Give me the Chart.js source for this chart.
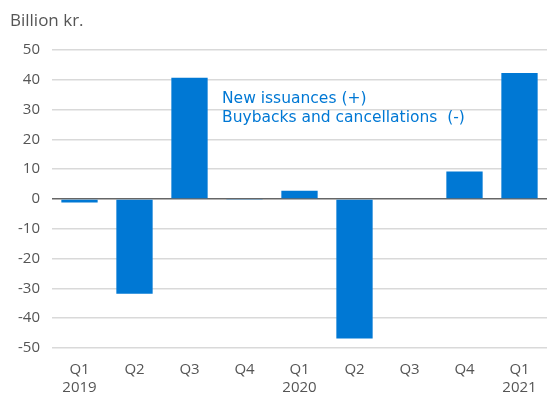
<!DOCTYPE html>
<html><head><meta charset="utf-8">
<script src="https://cdn.jsdelivr.net/npm/chart.js@4/dist/chart.umd.min.js"></script>
<style>
html,body{margin:0;padding:0;background:#fff;}
#wrap{position:relative;width:549px;height:396px;font-family:"Open Sans",sans-serif;}
#unit{position:absolute;left:10px;top:10px;font-size:17px;line-height:20px;color:#555;}
.leg{position:absolute;left:222px;font-family:"DejaVu Sans",sans-serif;font-size:15.5px;line-height:18px;color:#0078D4;white-space:pre;}
</style></head><body>
<div id="wrap">
<canvas id="c" width="549" height="396"></canvas>
<div id="unit">Billion kr.</div>
<div class="leg" style="top:89px">New issuances (+)</div>
<div class="leg" style="top:108px">Buybacks and cancellations  (-)</div>
</div>
<script>
const quarters = ["Q1","Q2","Q3","Q4","Q1","Q2","Q3","Q4","Q1"];
const years = ["2019","","","","2020","","","","2021"];
const values = [-1.2, -31.8, 40.7, -0.3, 2.8, -46.8, 0, 9.2, 42.3];
const yTicks = [50,40,30,20,10,0,-10,-20,-30,-40,-50];
const labels = quarters.map((q,i)=>years[i]?[q,years[i]]:[q]);
new Chart(document.getElementById('c'),{
  type:'bar',
  data:{labels:labels,datasets:[{data:values,backgroundColor:'#0078D4',borderWidth:0,categoryPercentage:1,barPercentage:0.66}]},
  options:{
    responsive:false,animation:false,
    layout:{padding:{top:50,right:2,left:0,bottom:0}},
    plugins:{legend:{display:false},tooltip:{enabled:false}},
    scales:{
      x:{grid:{display:false},border:{display:false},
        ticks:{color:'#555',font:{family:'Open Sans',size:15},padding:5,maxRotation:0,autoSkip:false},
        afterFit:s=>{s.height=48;}},
      y:{min:-50,max:50,
        afterBuildTicks:s=>{s.ticks=yTicks.map(v=>({value:v}));},
        grid:{color:c=>c.tick.value===0?'#666':'#d9d9d9',lineWidth:1.5,drawTicks:false},
        border:{display:false},
        ticks:{color:'#555',font:{family:'Open Sans',size:15},padding:12},
        afterFit:s=>{s.width=52;}}
    }
  }
});
</script>
</body></html>
